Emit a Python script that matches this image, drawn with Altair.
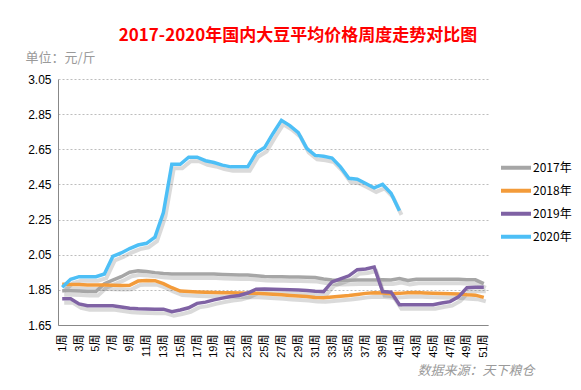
import altair as alt
import pandas as pd

# ---------------- data ----------------
weeks = list(range(1, 52))
years = ["2017年", "2018年", "2019年", "2020年"]

p2017 = [1.845, 1.845, 1.843, 1.840, 1.840, 1.885, 1.905, 1.925, 1.950, 1.958,
         1.955, 1.948, 1.943, 1.940, 1.940, 1.940, 1.940, 1.940, 1.940, 1.938,
         1.936, 1.935, 1.935, 1.930, 1.926, 1.924, 1.924, 1.923, 1.923, 1.922,
         1.920, 1.912, 1.906, 1.903, 1.905, 1.906, 1.906, 1.906, 1.907, 1.906,
         1.914, 1.903, 1.910, 1.910, 1.910, 1.910, 1.911, 1.910, 1.908, 1.907,
         1.885]
p2018 = [1.882, 1.881, 1.880, 1.878, 1.878, 1.877, 1.876, 1.875, 1.876, 1.900,
         1.903, 1.902, 1.885, 1.862, 1.843, 1.840, 1.838, 1.836, 1.835, 1.834,
         1.833, 1.832, 1.831, 1.830, 1.828, 1.825, 1.822, 1.818, 1.815, 1.812,
         1.806, 1.805, 1.810, 1.814, 1.818, 1.824, 1.830, 1.834, 1.832, 1.828,
         1.830, 1.834, 1.835, 1.832, 1.830, 1.829, 1.828, 1.826, 1.822, 1.820,
         1.807]
p2019 = [1.800, 1.800, 1.770, 1.760, 1.760, 1.760, 1.760, 1.752, 1.745, 1.742,
         1.741, 1.740, 1.740, 1.726, 1.735, 1.748, 1.773, 1.780, 1.793, 1.803,
         1.812, 1.818, 1.832, 1.854, 1.855, 1.854, 1.852, 1.851, 1.849, 1.846,
         1.842, 1.840, 1.895, 1.912, 1.930, 1.965, 1.969, 1.980, 1.840, 1.837,
         1.765, 1.765, 1.765, 1.765, 1.765, 1.775, 1.783, 1.810, 1.862, 1.865,
         1.865]
p2020 = [1.865, 1.910, 1.925, 1.925, 1.925, 1.940, 2.040, 2.060, 2.085, 2.105,
         2.115, 2.150, 2.290, 2.565, 2.565, 2.605, 2.605, 2.585, 2.575, 2.560,
         2.550, 2.550, 2.550, 2.630, 2.660, 2.740, 2.815, 2.785, 2.745, 2.655,
         2.615, 2.610, 2.600, 2.550, 2.485, 2.480, 2.455, 2.430, 2.450, 2.400,
         2.300]

y_ticks = [1.65, 1.85, 2.05, 2.25, 2.45, 2.65, 2.85, 3.05]
x_ticks = list(range(1, 52, 2))
colors = ["#A6A6A6", "#F39B3A", "#7F62A4", "#4DBFF6"]

rows = []
for yr, vals in zip(years, [p2017, p2018, p2019, p2020]):
    for w, v in zip(weeks, vals):
        rows.append({"week": w, "price": v, "year": yr})
df = pd.DataFrame(rows)

FONT = "Liberation Sans, Noto Sans CJK SC, sans-serif"
CJK = "Noto Sans CJK SC, Liberation Sans, sans-serif"

x_enc = alt.X(
    "week:Q",
    scale=alt.Scale(domain=[0.5, 51.5], nice=False, zero=False),
    axis=alt.Axis(
        values=x_ticks, labelExpr="datum.value + '周'", labelAngle=270,
        grid=False, ticks=False, domainColor="#888888",
        labelFontSize=11, labelPadding=9, labelColor="#000000", labelFont=FONT,
        title="数据来源：天下粮仓", titleFontStyle="italic", titleColor="#9A9A9A",
        titleFontWeight="normal", titleFontSize=13, titleFont=CJK,
        titleX=359, titleY=45, titleAlign="left", titleBaseline="middle",
    ),
)
y_enc = alt.Y(
    "price:Q",
    scale=alt.Scale(domain=[1.65, 3.05], nice=False, zero=False),
    axis=alt.Axis(
        values=y_ticks, format=".2f", grid=True, gridDash=[2, 2],
        gridColor="#BDBDBD", ticks=False, domainColor="#888888",
        labelFontSize=12, labelPadding=7, labelColor="#000000", labelFont=FONT,
        title="单位：元/斤", titleAngle=0, titleX=-33, titleY=-22,
        titleAlign="left", titleBaseline="middle", titleFontWeight="normal",
        titleColor="#9A9A9A", titleFontSize=13, titleFont=CJK,
    ),
)

base = alt.Chart(df)

shadow = base.mark_line(
    strokeWidth=4, xOffset=2, yOffset=4, opacity=0.18, color="#333333",
    interpolate="linear",
).encode(x=x_enc, y=y_enc, detail="year:N")

lines = base.mark_line(strokeWidth=3.5, interpolate="linear").encode(
    x=x_enc,
    y=y_enc,
    color=alt.Color(
        "year:N",
        scale=alt.Scale(domain=years, range=colors),
        legend=alt.Legend(
            orient="none", legendX=441, legendY=77.5, title=None, padding=0,
            symbolType="stroke", symbolSize=900, symbolStrokeWidth=4,
            symbolOffset=0, labelFontSize=12, labelOffset=0, rowPadding=0,
            clipHeight=22.7, labelFont=CJK, labelColor="#000000",
        ),
    ),
    order=alt.Order("week:Q"),
)

chart = (
    alt.layer(shadow, lines)
    .properties(
        width=430,
        height=246,
        title=alt.TitleParams(
            "2017-2020年国内大豆平均价格周度走势对比图",
            color="#FF0000", fontSize=17, fontWeight="bold", font=CJK,
            anchor="middle", dx=25, offset=6,
        ),
        autosize=alt.AutoSizeParams(type="none"),
        padding={"left": 50, "top": 71, "right": 85, "bottom": 56},
        background="#FFFFFF",
    )
    .configure_view(stroke=None)
)

chart.save("out.html", embed_options={"renderer": "svg", "actions": False})
